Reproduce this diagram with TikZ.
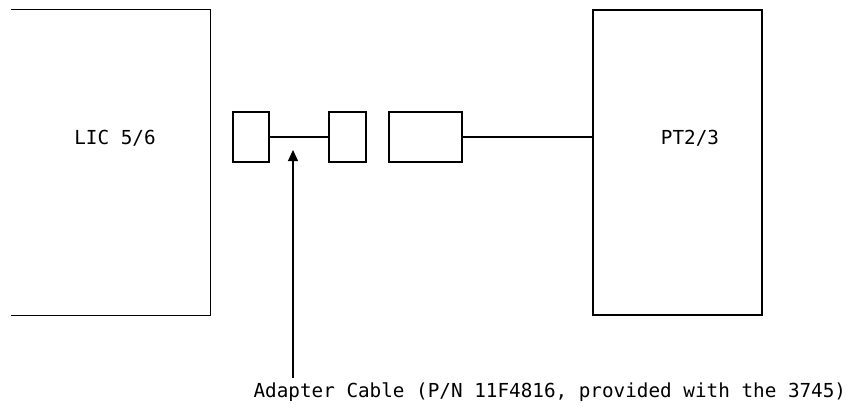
\documentclass[tikz,border=0pt]{standalone}
\usepackage{fontspec}
\setmonofont{DejaVu Sans Mono}
\usetikzlibrary{arrows.meta}
\begin{document}
\begin{tikzpicture}[x=1pt,y=-1pt,line width=1.1pt,
  lbl/.style={font=\ttfamily\fontsize{19.3}{23}\selectfont,inner sep=0pt},
  conn/.style={draw,inner sep=0pt,minimum height=50pt},
  big/.style={inner sep=0pt,minimum width=#1,minimum height=305pt}]
\useasboundingbox (0,0) rectangle (865,408);
% left box (open on left side)
\node[big=198pt] (lic) at (111,162.5) {};
\draw (lic.north west) -- (lic.north east) -- (lic.south east) -- (lic.south west);
\node[lbl] (licl) at (115,138) {LIC 5/6};
% right box
\node[big=169pt,draw] (pt) at (677.5,162.5) {};
\node[lbl] (ptl) at (690,138) {PT2/3};
% connectors
\node[conn,minimum width=36pt] (b1) at (251,137) {};
\node[conn,minimum width=37pt] (b2) at (347.5,137) {};
\node[conn,minimum width=73pt] (b3) at (425.5,137) {};
\draw (b1.east) -- (b2.west);
\draw (b3.east) -- (b3.east -| pt.west);
% annotation
\coordinate (tail) at (293,378);
\coordinate (tip) at (293,150);
\draw[-{Triangle[width=10pt,length=11pt]}] (tail) -- (tip);
\node[lbl,anchor=base west] (note) at (253,397) {Adapter Cable (P/N 11F4816, provided with the 3745)};
\end{tikzpicture}
\end{document}
